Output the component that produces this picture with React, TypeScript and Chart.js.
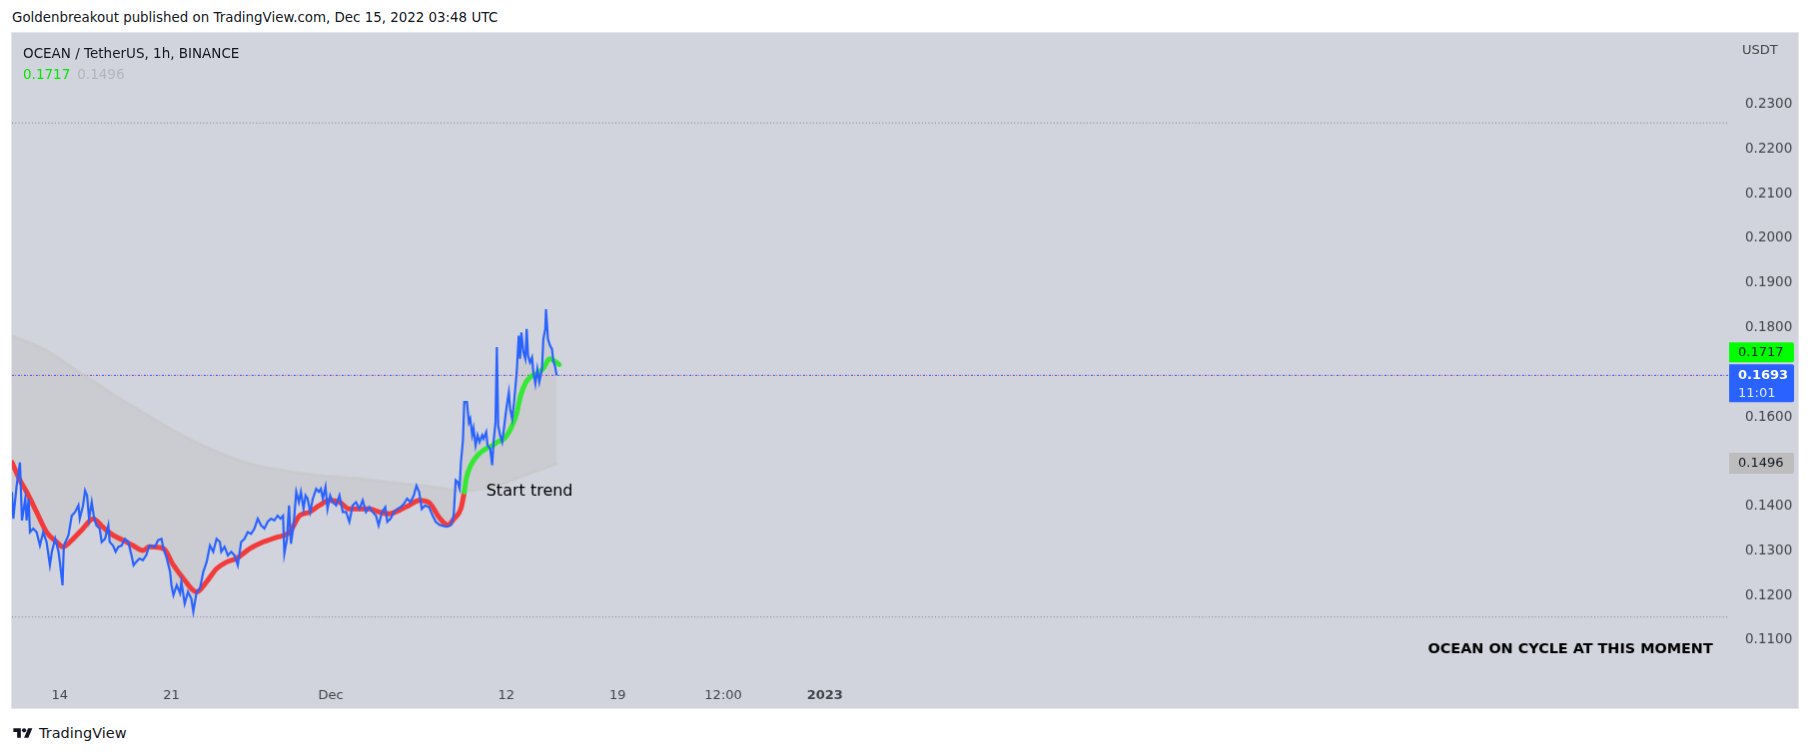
import React, { useEffect, useRef } from "react";
import { Chart, registerables } from "chart.js";

Chart.register(...registerables);

// time axis: hours since 2022-11-11 00:00 UTC
const priceHours = [
  0, 2, 7, 12, 15, 20, 22, 25, 27, 32, 37, 42, 47, 52, 57, 60, 65, 70, 72, 76, 78, 85, 90, 95, 100, 102, 107, 110, 113, 116,
  120, 123, 127, 132, 135, 140, 145, 147, 152, 156, 160, 165, 170, 175, 180, 183, 187, 192, 197, 202, 207,
  215, 220, 225, 228, 233, 238, 240, 243, 248, 253, 255, 260, 265, 270, 273, 278, 283, 288, 293, 298, 303, 308, 313, 315,
  320, 325, 330, 335, 340, 345, 350, 355, 360, 365, 370, 375, 380, 385, 390, 395, 400, 404, 408, 410, 414, 417,
  420, 424, 428, 432, 435, 439, 442, 445, 449, 453, 458, 462, 465, 468, 472, 475, 479, 483, 488, 493, 498, 503, 508, 513,
  518, 523, 528, 533, 538, 543, 548, 552, 557, 562, 565, 570, 575, 580, 585, 590, 595, 600, 605, 609, 613, 617, 622, 628,
  633, 638, 644, 654, 661, 665, 668, 671, 674, 676, 679, 681, 685, 688, 690, 693, 695, 698, 701, 704, 708, 710, 714, 716,
  720, 723, 725, 728, 730, 732, 735, 738, 740, 743, 745, 748, 750, 753, 756, 760, 763, 765, 767, 770, 773, 775, 777, 780,
  783, 785, 788, 791, 794, 798, 800, 803, 804, 807, 810, 813, 815, 818, 820,
];
const priceValues = [
  0.1432, 0.1372, 0.1446, 0.1498, 0.1368, 0.1417, 0.1368, 0.1417, 0.1342, 0.135, 0.1342, 0.1312, 0.1342, 0.132, 0.1268,
  0.1298, 0.1327, 0.1298, 0.1275, 0.1223, 0.1312, 0.1335, 0.1379, 0.1387, 0.1402, 0.1372, 0.1402, 0.1435, 0.1424, 0.1372,
  0.1409, 0.1379, 0.1357, 0.135, 0.132, 0.1327, 0.1357, 0.132, 0.1312, 0.1298, 0.1309, 0.1312, 0.1327, 0.132, 0.129,
  0.1268, 0.1275, 0.1283, 0.1279, 0.129, 0.1312,
  0.1309, 0.1324, 0.1327, 0.1305, 0.1283, 0.1253, 0.1223, 0.1201, 0.1223, 0.1205, 0.1231, 0.1182, 0.1208, 0.1193, 0.1164,
  0.1208, 0.1216, 0.1253, 0.1275, 0.1312, 0.1298, 0.1327, 0.132, 0.1298,
  0.1309, 0.129, 0.1298, 0.129, 0.1268, 0.132, 0.1327, 0.1342, 0.1338, 0.135, 0.1372, 0.1357, 0.135, 0.1365, 0.1372,
  0.1368, 0.1379, 0.1372, 0.1379, 0.1294, 0.1327, 0.1402,
  0.1316, 0.1357, 0.1432, 0.1409, 0.1432, 0.1394, 0.1424, 0.1417, 0.1387, 0.1417, 0.1439, 0.1432, 0.1439, 0.1417, 0.1443,
  0.1394, 0.1424, 0.1409, 0.1402, 0.1424, 0.1387, 0.1387, 0.1365, 0.1402,
  0.1409, 0.1394, 0.1413, 0.1387, 0.1398, 0.1387, 0.1379, 0.1357, 0.1387, 0.1398, 0.1365, 0.1372, 0.1387, 0.1394, 0.1398,
  0.1405, 0.1417, 0.1409, 0.1424, 0.1446, 0.1432, 0.1394, 0.1402, 0.1398,
  0.138, 0.1365, 0.1358, 0.1354, 0.1358, 0.138, 0.1458, 0.1454, 0.144, 0.1499, 0.1547, 0.1633, 0.1633, 0.1588, 0.1596,
  0.1559, 0.1574, 0.1536, 0.1559, 0.1544, 0.1559, 0.1551, 0.1566, 0.1536,
  0.1529, 0.1492, 0.1544, 0.1588, 0.1756, 0.1581, 0.1559, 0.1544, 0.1566, 0.1603, 0.1626, 0.1655, 0.1618, 0.1596, 0.1633,
  0.17, 0.1782, 0.173, 0.1789, 0.1745, 0.173, 0.1797, 0.1737, 0.1722,
  0.1733, 0.17, 0.1674, 0.1707, 0.1678, 0.1707, 0.1774, 0.1797, 0.1841, 0.1774, 0.176, 0.1752, 0.1726, 0.1711, 0.1693,
];

const fastHours = [
  0, 12, 22, 37, 52, 67, 77, 92, 107, 122, 137, 152, 167, 182, 197, 207, 228, 243, 258, 278, 293, 308, 323, 338, 358, 378,
  398, 418, 433, 448, 463, 478, 493, 508, 523, 538, 553, 568, 583, 598, 613, 628, 644, 656, 666, 676, 681, 684, 691, 701,
  714, 724, 731, 741, 751, 759, 766, 774, 784, 794, 801, 809, 816, 824,
];
const fastValues = [
  0.1498, 0.1458, 0.1432, 0.1387, 0.1342, 0.132, 0.1309, 0.1327, 0.135, 0.1372, 0.1353, 0.1335, 0.1324, 0.1312, 0.1301,
  0.1309, 0.1305, 0.1268, 0.1238, 0.1208, 0.1231, 0.126, 0.1275, 0.1283, 0.1305, 0.132, 0.133, 0.1342, 0.1379, 0.1387,
  0.1402, 0.1413, 0.1409, 0.1394, 0.1394, 0.1394, 0.1387, 0.1383, 0.1391, 0.1402, 0.1413, 0.1408, 0.1373, 0.1358, 0.1373,
  0.1395, 0.1432, 0.1462, 0.1492, 0.1514, 0.1529, 0.1536, 0.1544, 0.1551, 0.1574, 0.1603, 0.1648, 0.1678, 0.1693, 0.17,
  0.1711, 0.173, 0.1726, 0.1717,
];

const slowHours = [0, 47, 98, 147, 208, 257, 308, 358, 418, 468, 519, 569, 629, 678, 729, 779, 821];
const slowValues = [
  0.1781, 0.1752, 0.1703, 0.1656, 0.16, 0.1558, 0.1522, 0.1495, 0.1477, 0.1468, 0.1462, 0.1453, 0.1444, 0.1435, 0.1446,
  0.1473, 0.1496,
];

const trendStartHour = 681;
const lastPrice = 0.1693;
const countdown = "11:01";
const fastLast = 0.1717;
const slowLast = 0.1496;
const topLevel = 0.2258;
const bottomLevel = 0.1152;

const yTicks = [0.11, 0.12, 0.13, 0.14, 0.15, 0.16, 0.17, 0.18, 0.19, 0.2, 0.21, 0.22, 0.23];
const xTickHours = [72, 240, 480, 744, 912, 1071, 1224];
const xTickLabels = ["14", "21", "Dec", "12", "19", "12:00", "2023"];

const X_MIN = 0;
const X_MAX = 2584;
const Y_MIN = 0.10107;
const Y_MAX = 0.24594;

const startTrendAt = { hour: 714, value: 0.1433 };
const noteAt = { hour: 2561, value: 0.108 };
const noteText = "OCEAN ON CYCLE AT THIS MOMENT";

const FONT = "'DejaVu Sans', sans-serif";
const AXIS = "#45454c";
const BLUE = "#2962ff";
const RED = "#f23c3c";
const GREEN = "#35e835";
const FILL = "rgba(192,190,190,0.36)";

function tag(ctx: CanvasRenderingContext2D, x: number, y: number, w: number, h: number, bg: string) {
  const r = 2;
  ctx.beginPath();
  ctx.moveTo(x, y);
  ctx.lineTo(x + w - r, y);
  ctx.quadraticCurveTo(x + w, y, x + w, y + r);
  ctx.lineTo(x + w, y + h - r);
  ctx.quadraticCurveTo(x + w, y + h, x + w - r, y + h);
  ctx.lineTo(x, y + h);
  ctx.closePath();
  ctx.fillStyle = bg;
  ctx.fill();
}

const annotations = {
  id: "tvAnnotations",
  afterDraw(chart: any) {
    const { ctx, chartArea, scales } = chart;
    const x = scales.x;
    const y = scales.y;
    ctx.save();
    ctx.textBaseline = "middle";
    ctx.textAlign = "left";
    ctx.font = `13px ${FONT}`;
    ctx.fillStyle = AXIS;
    ctx.fillText("USDT", chartArea.right + 14, chartArea.top + 18);

    ctx.font = `16px ${FONT}`;
    ctx.fillStyle = "#000000";
    ctx.fillText("Start trend", x.getPixelForValue(startTrendAt.hour), y.getPixelForValue(startTrendAt.value));

    ctx.font = `bold 14.4px ${FONT}`;
    ctx.textAlign = "right";
    ctx.fillText(noteText, x.getPixelForValue(noteAt.hour), y.getPixelForValue(noteAt.value));

    ctx.textAlign = "left";
    const left = chartArea.right + 1;
    const w = 65;
    const tx = chartArea.right + 10;
    const yLast = y.getPixelForValue(lastPrice);
    const blueTop = yLast - 11;
    tag(ctx, left, blueTop, w, 38, BLUE);
    ctx.fillStyle = "#ffffff";
    ctx.font = `bold 13px ${FONT}`;
    ctx.fillText(lastPrice.toFixed(4), tx, yLast);
    ctx.font = `13px ${FONT}`;
    ctx.fillStyle = "rgba(255,255,255,0.88)";
    ctx.fillText(countdown, tx, yLast + 18);

    const gTop = blueTop - 22;
    tag(ctx, left, gTop, w, 20, "#00ff00");
    ctx.fillStyle = "#131722";
    ctx.fillText(fastLast.toFixed(4), tx, gTop + 10);

    const ySlow = y.getPixelForValue(slowLast);
    tag(ctx, left, ySlow - 10.5, w, 21, "#bdbdbd");
    ctx.fillStyle = "#131722";
    ctx.fillText(slowLast.toFixed(4), tx, ySlow);
    ctx.restore();
  },
};

const pts = (xs: number[], ys: number[]) => xs.map((v, i) => ({ x: v, y: ys[i] }));
const flat = (v: number) => [
  { x: X_MIN, y: v },
  { x: X_MAX, y: v },
];

export default function App() {
  const ref = useRef<HTMLCanvasElement>(null);

  useEffect(() => {
    const canvas = ref.current!;
    const chart = new Chart(canvas, {
      type: "line",
      data: {
        datasets: [
          {
            label: "OCEAN/USDT",
            data: pts(priceHours, priceValues),
            borderColor: BLUE,
            borderWidth: 2.2,
            pointRadius: 0,
            tension: 0,
            fill: { target: 2, above: FILL, below: FILL },
          },
          {
            label: "Fast MA",
            data: pts(fastHours, fastValues),
            borderColor: RED,
            borderWidth: 5,
            pointRadius: 0,
            cubicInterpolationMode: "monotone",
            borderCapStyle: "round",
            borderJoinStyle: "round",
            fill: false,
            segment: {
              borderColor: (c: any) => (c.p0.parsed.x >= trendStartHour ? GREEN : RED),
            },
          },
          {
            label: "Slow MA",
            data: pts(slowHours, slowValues),
            borderColor: "rgba(200,200,202,0.75)",
            borderWidth: 3,
            pointRadius: 0,
            cubicInterpolationMode: "monotone",
            fill: false,
          },
          {
            label: "top",
            data: flat(topLevel),
            borderColor: "#7f828d",
            borderWidth: 1,
            borderDash: [1, 2.3],
            pointRadius: 0,
            fill: false,
          },
          {
            label: "bottom",
            data: flat(bottomLevel),
            borderColor: "#7f828d",
            borderWidth: 1,
            borderDash: [1, 2.3],
            pointRadius: 0,
            fill: false,
          },
          {
            label: "last blue",
            data: flat(lastPrice),
            borderColor: "#2a52ff",
            borderWidth: 1,
            borderDash: [2, 4],
            pointRadius: 0,
            fill: false,
          },
          {
            label: "last red",
            data: flat(lastPrice),
            borderColor: "#e8506a",
            borderWidth: 1,
            borderDash: [1.2, 4.8],
            borderDashOffset: 3,
            pointRadius: 0,
            fill: false,
          },
        ],
      },
      options: {
        animation: false,
        responsive: false,
        maintainAspectRatio: false,
        layout: { padding: 0 },
        events: [],
        plugins: {
          legend: { display: false },
          tooltip: { enabled: false },
          filler: { drawTime: "beforeDatasetsDraw", propagate: false },
        } as any,
        scales: {
          x: {
            type: "linear",
            min: X_MIN,
            max: X_MAX,
            grid: { display: false },
            border: { display: false },
            afterBuildTicks: (s: any) => {
              s.ticks = xTickHours.map((v) => ({ value: v }));
            },
            afterFit: (s: any) => {
              s.height = 28;
              s.paddingLeft = 0;
              s.paddingRight = 0;
            },
            ticks: {
              autoSkip: false,
              maxRotation: 0,
              padding: 0,
              color: AXIS,
              font: (c: any) => ({ family: FONT, size: 13, weight: c.index === 6 ? "bold" : "normal" }),
              callback: (_v: any, i: number) => xTickLabels[i],
            },
          },
          y: {
            type: "linear",
            position: "right",
            min: Y_MIN,
            max: Y_MAX,
            grid: { display: false },
            border: { display: false },
            afterBuildTicks: (s: any) => {
              s.ticks = yTicks.map((v) => ({ value: v }));
            },
            afterFit: (s: any) => {
              s.width = 70;
              s.paddingTop = 0;
              s.paddingBottom = 0;
            },
            ticks: {
              padding: 9,
              color: AXIS,
              font: { family: FONT, size: 13.5 },
              callback: (v: any) => Number(v).toFixed(4),
            },
          },
        } as any,
      },
      plugins: [annotations],
    } as any);
    return () => chart.destroy();
  }, []);

  return (
    <div
      style={{
        position: "absolute",
        left: 0,
        top: 0,
        width: 1814,
        height: 755,
        background: "#ffffff",
        fontFamily: FONT,
        overflow: "hidden",
      }}
    >
      <div style={{ position: "absolute", left: 12, top: 10, fontSize: 13.4, lineHeight: "16px", color: "#131722" }}>
        Goldenbreakout published on TradingView.com, Dec 15, 2022 03:48 UTC
      </div>
      <canvas
        ref={ref}
        width={1788}
        height={677}
        style={{
          position: "absolute",
          left: 11,
          top: 32,
          width: 1788,
          height: 677,
          background: "#d1d4dc",
          border: "1px solid #e3e5ea",
        }}
      />
      <div style={{ position: "absolute", left: 23, top: 45, fontSize: 13.5, lineHeight: "16px", color: "#131722" }}>
        OCEAN / TetherUS, 1h, BINANCE
      </div>
      <div style={{ position: "absolute", left: 23, top: 66, fontSize: 13.5, lineHeight: "16px" }}>
        <span style={{ color: "#00e600" }}>{fastLast.toFixed(4)}</span>
        <span style={{ color: "#b2b5be", marginLeft: 7 }}>{slowLast.toFixed(4)}</span>
      </div>
      <div
        style={{
          position: "absolute",
          left: 13,
          top: 725,
          display: "flex",
          alignItems: "center",
          fontSize: 14.5,
          lineHeight: "16px",
          color: "#131722",
        }}
      >
        <svg width="20" height="15" viewBox="0 0 36 28" style={{ marginRight: 6 }}>
          <path d="M14 22H7V11H0V4h14v18zM28 22h-8l7.5-18h8L28 22z" fill="#131722" />
          <circle cx="20" cy="8" r="4" fill="#131722" />
        </svg>
        TradingView
      </div>
    </div>
  );
}
